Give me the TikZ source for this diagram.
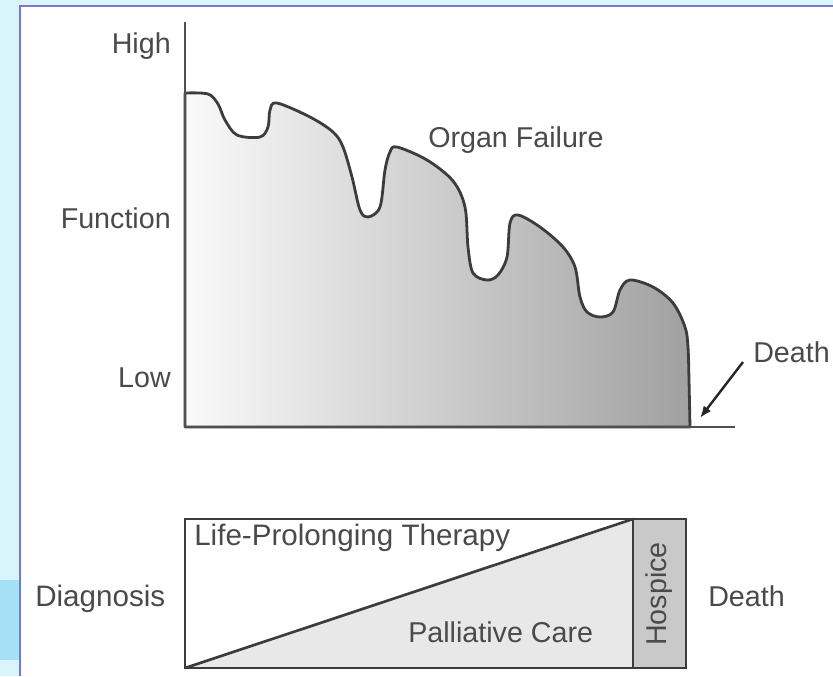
\documentclass[tikz,border=0pt]{standalone}
\usepackage{fontspec}
\setmainfont{Liberation Sans}
\usetikzlibrary{positioning,arrows.meta}

\definecolor{inkGray}{HTML}{3C3C3C}
\definecolor{textGray}{HTML}{4A4A4A}
\definecolor{frameBlue}{HTML}{7878D4}
\definecolor{skyLight}{HTML}{DAF4FC}
\definecolor{skyDeep}{HTML}{A6E0F7}

\begin{document}
\begin{tikzpicture}
[x=0.75pt,y=-0.75pt,
  labelDecorate/.style={text=textGray,font=\fontsize{21.5pt}{24pt}\selectfont,inner sep=0pt},
  axisDecorate/.style={draw=inkGray!90,line width=1.8pt},
  curveDecorate/.style={draw=inkGray,line width=2.1pt,line join=round},
  boxDecorate/.style={draw=inkGray,line width=2pt},
  arrowDecorate/.style={-{Latex[length=9pt,width=7pt]},draw=black!85,line width=1.8pt}]
\useasboundingbox (0,0) rectangle (833,676);
%% backdrop
\fill[skyLight] (0,0) rectangle (833,6);
\fill[skyLight] (0,0) rectangle (20,676);
\fill[skyDeep] (0,580) rectangle (20,660);
\draw[frameBlue,line width=1.6pt] (20,676) -- (20,6) -- (833,6);
%% function curve
\draw[curveDecorate,left color=black!2,right color=black!37]
  (185,93) plot[smooth,tension=0.55] coordinates {
  (185,93) (208,94) (218,104) (225,120) (237,135) (260,137) (268,127)
  (270,110) (277,103) (310,117) (333,132) (343,147) (352,177) (360,210)
  (368,217) (380,207) (385,170) (390,152) (397,147) (427,160) (453,181)
  (465,207) (468,247) (473,273) (487,280) (498,275) (507,257) (510,223)
  (518,215) (540,227) (563,247) (575,267) (580,297) (587,312) (600,317)
  (613,312) (620,290) (630,280) (653,287) (673,303) (685,327) (688,347)
  (689,380) (690,427)}
  -- (185,427) -- cycle;
%% axes
\coordinate (axisTop) at (185,22);
\coordinate (origin) at (185,427);
\coordinate (axisEnd) at (735,427);
\draw[axisDecorate] (axisTop) -- (origin) -- (axisEnd);
%% axis labels
\foreach \nodename/\y/\txt in {high/53/High, function/228/Function, low/387/Low}
{
  \node (\nodename) at (171,\y) [labelDecorate,anchor=base east] {\txt};
}
\node (organ) at (428,147) [labelDecorate,anchor=base west] {Organ Failure};
\node (deathTop) at (753,362) [labelDecorate,anchor=base west] {Death};
\coordinate (arrowStart) at (743,362);
\coordinate (arrowEnd) at (700,418);
\draw[arrowDecorate] (arrowStart) -- (arrowEnd);
%% care box
\coordinate (boxSW) at (185,668);
\coordinate (boxNE) at (686,519);
\coordinate (splitTop) at (633,519);
\coordinate (splitBottom) at (633,668);
\fill[black!9] (boxSW) -- (splitTop) -- (splitBottom) -- cycle;
\fill[black!21] (splitTop) rectangle (boxNE |- boxSW);
\draw[boxDecorate] (boxSW) rectangle (boxNE);
\draw[boxDecorate] (splitTop) -- (splitBottom);
\draw[boxDecorate] (boxSW) -- (splitTop);
\node (therapy) at (194,545) [labelDecorate,anchor=base west,font=\fontsize{22.2pt}{24pt}\selectfont] {Life-Prolonging Therapy};
\node (palliative) at (408,642) [labelDecorate,anchor=base west] {Palliative Care};
\node (hospice) at (659,594) [labelDecorate,rotate=90] {Hospice};
\node (diagnosis) at (35,606) [labelDecorate,anchor=base west,font=\fontsize{22.2pt}{24pt}\selectfont] {Diagnosis};
\node (deathEnd) at (708,606) [labelDecorate,anchor=base west] {Death};
\end{tikzpicture}
\end{document}
